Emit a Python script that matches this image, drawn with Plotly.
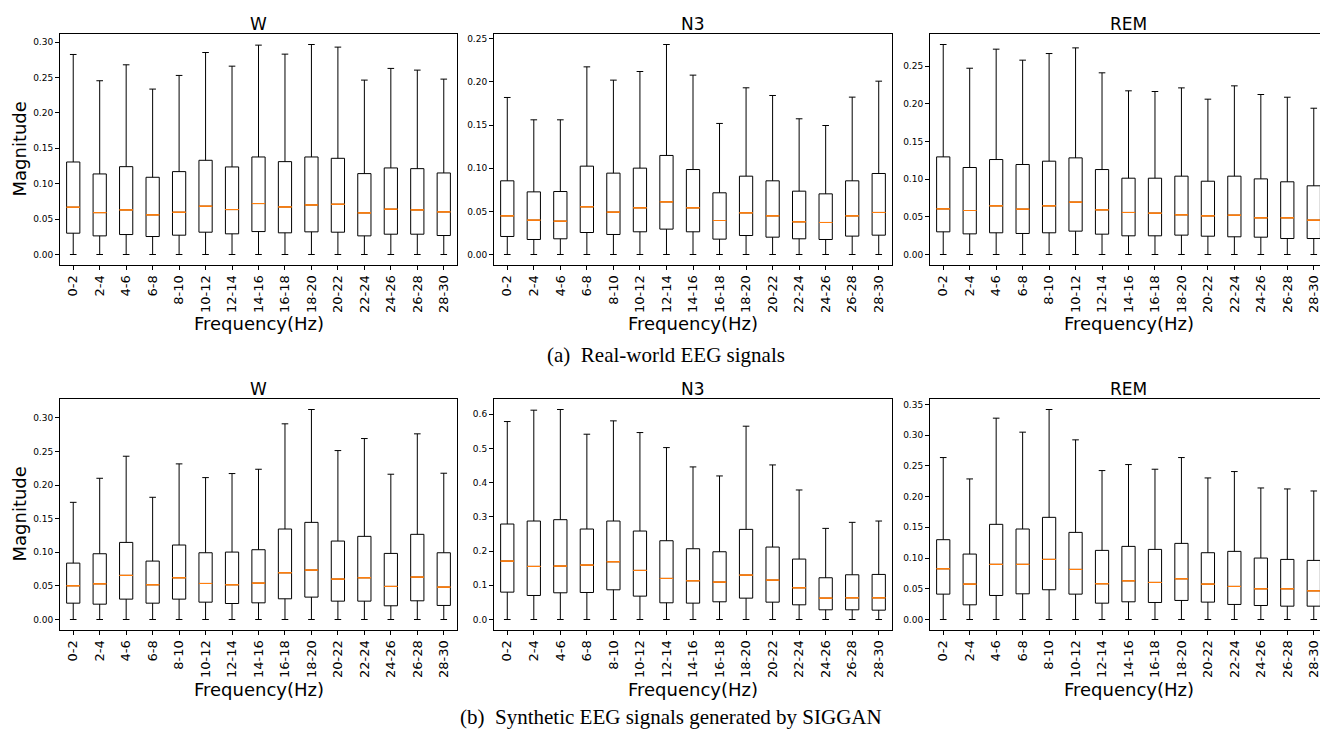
import plotly.graph_objects as go

# Frequency bands (Hz) on the x axis of every panel
bands = ["0-2", "2-4", "4-6", "6-8", "8-10", "10-12", "12-14", "14-16",
         "16-18", "18-20", "20-22", "22-24", "24-26", "26-28", "28-30"]

# Lower whisker ends (all bands reach zero magnitude)
whisker_lo = [0.0] * 15

# ---- (a) Real-world EEG signals ----
real_w_q1 = [0.0301, 0.0263, 0.0282, 0.0254, 0.0273, 0.0315, 0.0292, 0.0324,
             0.0306, 0.0320, 0.0315, 0.0263, 0.0287, 0.0287, 0.0268]
real_w_med = [0.0668, 0.0592, 0.0630, 0.0560, 0.0597, 0.0682, 0.0635, 0.0720,
              0.0672, 0.0700, 0.0710, 0.0588, 0.0640, 0.0630, 0.0602]
real_w_q3 = [0.1307, 0.1138, 0.1241, 0.1091, 0.1171, 0.1331, 0.1237, 0.1378,
             0.1312, 0.1378, 0.1359, 0.1143, 0.1223, 0.1213, 0.1152]
real_w_hi = [0.2826, 0.2455, 0.2680, 0.2337, 0.2530, 0.2854, 0.2661, 0.2958,
             0.2831, 0.2967, 0.2930, 0.2464, 0.2629, 0.2605, 0.2478]

real_n3_q1 = [0.0209, 0.0174, 0.0182, 0.0255, 0.0232, 0.0263, 0.0294, 0.0263,
              0.0178, 0.0220, 0.0201, 0.0182, 0.0174, 0.0213, 0.0224]
real_n3_med = [0.0448, 0.0398, 0.0386, 0.0553, 0.0491, 0.0541, 0.0610, 0.0541,
               0.0394, 0.0483, 0.0448, 0.0379, 0.0371, 0.0448, 0.0487]
real_n3_q3 = [0.0854, 0.0726, 0.0730, 0.1024, 0.0943, 0.1001, 0.1148, 0.0985,
              0.0715, 0.0908, 0.0854, 0.0734, 0.0703, 0.0854, 0.0939]
real_n3_hi = [0.1820, 0.1561, 0.1561, 0.2175, 0.2021, 0.2121, 0.2434, 0.2079,
              0.1519, 0.1932, 0.1843, 0.1573, 0.1495, 0.1824, 0.2009]

real_rem_q1 = [0.0301, 0.0274, 0.0288, 0.0279, 0.0288, 0.0310, 0.0270, 0.0248,
               0.0248, 0.0257, 0.0243, 0.0235, 0.0230, 0.0212, 0.0212]
real_rem_med = [0.0606, 0.0584, 0.0646, 0.0602, 0.0646, 0.0695, 0.0593, 0.0558,
                0.0549, 0.0527, 0.0513, 0.0522, 0.0487, 0.0487, 0.0456]
real_rem_q3 = [0.1296, 0.1155, 0.1261, 0.1195, 0.1239, 0.1283, 0.1128, 0.1013,
               0.1013, 0.1040, 0.0973, 0.1040, 0.1004, 0.0965, 0.0912]
real_rem_hi = [0.2788, 0.2473, 0.2726, 0.2580, 0.2668, 0.2743, 0.2412, 0.2173,
               0.2164, 0.2212, 0.2062, 0.2239, 0.2124, 0.2088, 0.1942]

# ---- (b) Synthetic EEG signals generated by SIGGAN ----
syn_w_q1 = [0.0243, 0.0228, 0.0303, 0.0243, 0.0303, 0.0258, 0.0238, 0.0248,
            0.0308, 0.0333, 0.0273, 0.0273, 0.0204, 0.0278, 0.0209]
syn_w_med = [0.0502, 0.0531, 0.0656, 0.0517, 0.0621, 0.0536, 0.0517, 0.0541,
             0.0695, 0.0735, 0.0601, 0.0621, 0.0492, 0.0631, 0.0482]
syn_w_q3 = [0.0839, 0.0978, 0.1147, 0.0869, 0.1108, 0.0993, 0.1003, 0.1038,
            0.1346, 0.1445, 0.1167, 0.1237, 0.0983, 0.1267, 0.0993]
syn_w_hi = [0.1743, 0.2101, 0.2429, 0.1818, 0.2315, 0.2111, 0.2171, 0.2235,
            0.2911, 0.3124, 0.2513, 0.2692, 0.2161, 0.2762, 0.2176]

syn_n3_q1 = [0.0800, 0.0702, 0.0780, 0.0790, 0.0868, 0.0683, 0.0488, 0.0478,
             0.0517, 0.0624, 0.0507, 0.0429, 0.0283, 0.0283, 0.0273]
syn_n3_med = [0.1707, 0.1551, 0.1561, 0.1590, 0.1688, 0.1434, 0.1200, 0.1132,
              0.1093, 0.1298, 0.1151, 0.0927, 0.0624, 0.0634, 0.0634]
syn_n3_q3 = [0.2790, 0.2878, 0.2917, 0.2644, 0.2878, 0.2585, 0.2302, 0.2068,
             0.1980, 0.2634, 0.2117, 0.1766, 0.1220, 0.1307, 0.1317]
syn_n3_hi = [0.5785, 0.6117, 0.6137, 0.5415, 0.5805, 0.5463, 0.5024, 0.4459,
             0.4195, 0.5649, 0.4517, 0.3785, 0.2663, 0.2839, 0.2878]

syn_rem_q1 = [0.0413, 0.0239, 0.0391, 0.0418, 0.0484, 0.0413, 0.0266, 0.0288,
              0.0277, 0.0310, 0.0283, 0.0245, 0.0228, 0.0217, 0.0217]
syn_rem_med = [0.0826, 0.0576, 0.0897, 0.0897, 0.0978, 0.0815, 0.0582, 0.0630,
               0.0603, 0.0663, 0.0576, 0.0538, 0.0500, 0.0500, 0.0467]
syn_rem_q3 = [0.1299, 0.1065, 0.1549, 0.1473, 0.1663, 0.1418, 0.1125, 0.1190,
              0.1141, 0.1239, 0.1087, 0.1109, 0.1000, 0.0978, 0.0962]
syn_rem_hi = [0.2636, 0.2288, 0.3277, 0.3049, 0.3418, 0.2924, 0.2424, 0.2522,
              0.2446, 0.2636, 0.2304, 0.2408, 0.2141, 0.2125, 0.2092]

W, H = 1320, 730
TICK_FONT = "DejaVu Sans"
MEDIAN_COLOR = "#ff7f0e"

# pixel frames of the three columns and two rows
col_px = [(60, 457), (494, 892), (930, 1327)]
row_px = [(34, 265), (399, 630)]

panels = [
    ("W", real_w_q1, real_w_med, real_w_q3, real_w_hi, 0, 0, 0.05, ".2f"),
    ("N3", real_n3_q1, real_n3_med, real_n3_q3, real_n3_hi, 0, 1, 0.05, ".2f"),
    ("REM", real_rem_q1, real_rem_med, real_rem_q3, real_rem_hi, 0, 2, 0.05, ".2f"),
    ("W", syn_w_q1, syn_w_med, syn_w_q3, syn_w_hi, 1, 0, 0.05, ".2f"),
    ("N3", syn_n3_q1, syn_n3_med, syn_n3_q3, syn_n3_hi, 1, 1, 0.1, ".1f"),
    ("REM", syn_rem_q1, syn_rem_med, syn_rem_q3, syn_rem_hi, 1, 2, 0.05, ".2f"),
]

fig = go.Figure()
annotations = []
layout_axes = {}

for i, (title, q1, med, q3, hi, r, c, dtick, fmt) in enumerate(panels, start=1):
    xa = "x" if i == 1 else f"x{i}"
    ya = "y" if i == 1 else f"y{i}"
    x0, x1 = col_px[c]
    top, bot = row_px[r]
    right_px = min(x1, W)
    # the right-hand column runs past the page edge and is clipped
    n = len(bands)
    x_hi = -0.5 + n * (right_px - x0) / (x1 - x0)

    fig.add_trace(go.Box(
        x=bands, q1=q1, median=med, q3=q3,
        lowerfence=whisker_lo, upperfence=hi,
        width=0.5, whiskerwidth=0.5, boxpoints=False,
        line=dict(color="black", width=1), fillcolor="white",
        xaxis=xa, yaxis=ya, showlegend=False, hoverinfo="skip",
    ))
    # median lines drawn in orange on top of each box
    fig.add_trace(go.Box(
        x=bands, q1=med, median=med, q3=med,
        lowerfence=med, upperfence=med,
        width=0.5, whiskerwidth=0, boxpoints=False,
        line=dict(color=MEDIAN_COLOR, width=1), fillcolor=MEDIAN_COLOR,
        xaxis=xa, yaxis=ya, showlegend=False, hoverinfo="skip",
    ))

    ymax = max(hi)
    key = "" if i == 1 else str(i)
    layout_axes[f"xaxis{key}"] = dict(
        domain=[x0 / W, right_px / W], anchor=ya,
        type="category", range=[-0.5, x_hi],
        showline=True, mirror=True, linecolor="black", linewidth=1,
        ticks="outside", ticklen=4, tickwidth=1, tickcolor="black",
        tickangle=-90, showgrid=False, zeroline=False,
        tickfont=dict(family=TICK_FONT, size=13, color="black"),
    )
    layout_axes[f"yaxis{key}"] = dict(
        domain=[1 - bot / H, 1 - top / H], anchor=xa,
        range=[-0.05 * ymax, 1.05 * ymax],
        dtick=dtick, tick0=0, tickformat=fmt,
        showline=True, mirror=(c != 2), linecolor="black", linewidth=1,
        ticks="outside", ticklen=4, tickwidth=1, tickcolor="black",
        showgrid=False, zeroline=False,
        tickfont=dict(family=TICK_FONT, size=9, color="black"),
    )

    cx = (x0 + x1) / 2 / W
    title_y = [24, 389][r]
    annotations.append(dict(
        text=title, x=cx, y=1 - title_y / H, xref="paper", yref="paper",
        xanchor="center", yanchor="middle", showarrow=False,
        font=dict(family=TICK_FONT, size=17, color="black"),
    ))
    freq_y = [324, 689][r]
    annotations.append(dict(
        text="Frequency(Hz)", x=cx, y=1 - freq_y / H, xref="paper", yref="paper",
        xanchor="center", yanchor="middle", showarrow=False,
        font=dict(family=TICK_FONT, size=18, color="black"),
    ))
    if c == 0:
        annotations.append(dict(
            text="Magnitude", x=19 / W, y=1 - (top + bot) / 2 / H,
            xref="paper", yref="paper", xanchor="center", yanchor="middle",
            textangle=-90, showarrow=False,
            font=dict(family=TICK_FONT, size=18, color="black"),
        ))

# sub-figure captions
captions = [("(a)  Real-world EEG signals", 666, 355),
            ("(b)  Synthetic EEG signals generated by SIGGAN", 671, 717)]
for text, px, py in captions:
    annotations.append(dict(
        text=text, x=px / W, y=1 - py / H, xref="paper", yref="paper",
        xanchor="center", yanchor="middle", showarrow=False,
        font=dict(family="Liberation Serif", size=21, color="black"),
    ))

fig.update_layout(
    width=W, height=H,
    margin=dict(l=0, r=0, t=0, b=0),
    paper_bgcolor="white", plot_bgcolor="white",
    boxmode="overlay", showlegend=False,
    annotations=annotations,
    **layout_axes,
)

fig.write_html("out.html")
